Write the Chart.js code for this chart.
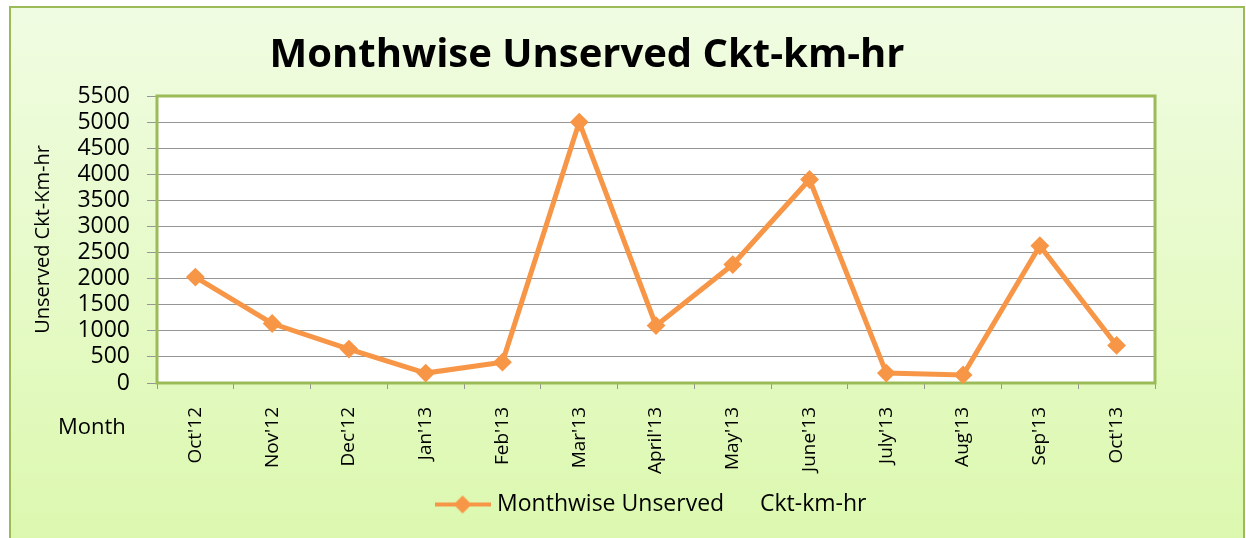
<!DOCTYPE html>
<html>
<head>
<meta charset="utf-8">
<title>Monthwise Unserved Ckt-km-hr</title>
<script src="https://cdn.jsdelivr.net/npm/chart.js@4.4.0/dist/chart.umd.min.js"></script>
<style>
  html, body { margin: 0; padding: 0; background: #fff; overflow: hidden; }
  #frame {
    position: absolute; left: 9px; top: 6px; width: 1232px; height: 560px;
    border: 2px solid #9bbb59;
    background: linear-gradient(#f0fce2, #dbf8ac);
  }
  #wrap { position: absolute; left: 0; top: 0; width: 1232px; height: 530px; }
</style>
</head>
<body>
<div id="frame"><div id="wrap"><canvas id="mainChart"></canvas></div></div>
<script>
// chart data
const months = ["Oct'12", "Nov'12", "Dec'12", "Jan'13", "Feb'13", "Mar'13", "April'13",
                "May'13", "June'13", "July'13", "Aug'13", "Sep'13", "Oct'13"];
const unserved = [2030, 1140, 650, 190, 400, 5000, 1100, 2270, 3900, 190, 155, 2630, 720];
const seriesName = 'Monthwise Unserved      Ckt-km-hr ';
const yMin = 0, yMax = 5500, yStep = 500;

const chartTitle = 'Monthwise Unserved Ckt-km-hr';
const yTitle = 'Unserved Ckt-Km-hr';
const xTitle = 'Month';

const ORANGE = '#f79646';
const GREEN = '#9bbb59';
const GRID = '#969696';
Chart.defaults.font.family = "'Open Sans', sans-serif";
Chart.defaults.color = '#000';

// legend marker: line with a diamond, like the office-style key
const legendMarker = (() => {
    const c = document.createElement('canvas');
    c.width = 56; c.height = 20;
    const g = c.getContext('2d');
    g.strokeStyle = ORANGE; g.lineWidth = 4;
    g.beginPath(); g.moveTo(0, 10); g.lineTo(56, 10); g.stroke();
    g.fillStyle = ORANGE;
    g.beginPath(); g.moveTo(28, 1); g.lineTo(37, 10); g.lineTo(28, 19); g.lineTo(19, 10); g.closePath(); g.fill();
    return c;
})();

const plotFrame = {
    id: 'plotFrame',
    beforeDraw(chart) {
        const { ctx, chartArea: a } = chart;
        ctx.save();
        ctx.fillStyle = '#fff';
        ctx.fillRect(a.left, a.top, a.width, a.height);
        ctx.restore();
    },
    beforeDatasetsDraw(chart) {
        const { ctx, chartArea: a } = chart;
        ctx.save();
        ctx.strokeStyle = GREEN;
        ctx.lineWidth = 3;
        ctx.strokeRect(a.left, a.top, a.width, a.height);
        ctx.restore();
    },
    afterDraw(chart) {
        const { ctx, chartArea: a } = chart;
        ctx.save();
        ctx.fillStyle = '#000';
        ctx.textBaseline = 'middle';
        ctx.textAlign = 'center';
        ctx.font = "bold 40px 'Open Sans', sans-serif";
        ctx.fillText(chartTitle, a.left + 430, 48);
        ctx.textAlign = 'left';
        ctx.font = "22px 'Open Sans', sans-serif";
        ctx.fillText(xTitle, 47, a.bottom + 45);
        ctx.restore();
    }
};

new Chart(document.getElementById('mainChart').getContext('2d'), {
    type: 'line',
    data: {
        labels: months,
        datasets: [{
            label: seriesName,
            data: unserved,
            borderColor: ORANGE,
            backgroundColor: ORANGE,
            borderWidth: 5,
            tension: 0,
            pointStyle: 'rectRot',
            pointRadius: 8,
            pointBorderWidth: 2,
            pointBackgroundColor: ORANGE,
            pointBorderColor: ORANGE,
            clip: false
        }]
    },
    options: {
        responsive: true,
        maintainAspectRatio: false,
        animation: false,
        layout: { padding: { top: 88, right: 88, bottom: 12, left: 0 } },
        plugins: {
            tooltip: { enabled: false },
            legend: {
                position: 'bottom',
                fullSize: false,
                labels: {
                    usePointStyle: true,
                    pointStyle: legendMarker,
                    pointStyleWidth: 46,
                    padding: 10,
                    font: { size: 23 },
                    color: '#000'
                }
            }
        },
        scales: {
            x: {
                offset: true,
                grid: { offset: true, drawOnChartArea: false, color: GRID, tickLength: 6 },
                border: { display: false },
                ticks: { autoSkip: false, minRotation: 90, maxRotation: 90, padding: 18, font: { size: 19 }, color: '#000' },
                afterFit(s) { s.height = 100; }
            },
            y: {
                min: yMin,
                max: yMax,
                grid: { color: GRID, tickLength: 10 },
                border: { display: false },
                ticks: {
                    stepSize: yStep, autoSkip: false, padding: 17,
                    font: { size: 23, lineHeight: 1 }, color: '#000',
                    callback: v => String(v)
                },
                title: { display: true, text: yTitle, font: { size: 20 }, color: '#000', padding: { top: 20, bottom: 0 } },
                afterFit(s) { s.width = 146; }
            }
        }
    },
    plugins: [plotFrame]
});
</script>
</body>
</html>
